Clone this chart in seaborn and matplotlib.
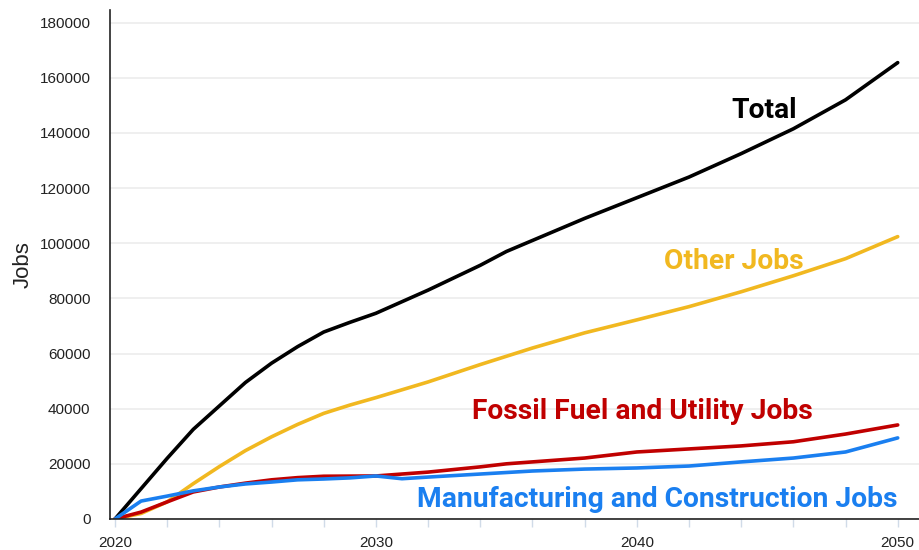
import matplotlib
matplotlib.use('Agg')
import matplotlib.pyplot as plt
from matplotlib.ticker import MultipleLocator
import numpy as np
import pandas as pd
import seaborn as sns

# ______________________________ data ______________________________
years_total = [2020, 2021, 2022, 2023, 2024, 2025, 2026, 2027, 2028, 2029, 2030, 2032, 2034, 2035,
               2036, 2038, 2040, 2042, 2044, 2046, 2048, 2050]
total = [0, 11000, 22000, 32500, 41000, 49500, 56500, 62500, 67800, 71300, 74600, 83000, 92000, 97000,
         101000, 109000, 116500, 124000, 132500, 141500, 152000, 165500]

years_other = [2020, 2021, 2022, 2023, 2024, 2025, 2026, 2027, 2028, 2029, 2030, 2032, 2034, 2036,
               2038, 2040, 2042, 2044, 2046, 2048, 2050]
other = [0, 2000, 6200, 12800, 19000, 24800, 29800, 34300, 38300, 41300, 44000, 49700, 56000, 62000,
         67500, 72200, 77000, 82400, 88200, 94400, 102400]

years_fossil = [2020, 2021, 2022, 2023, 2024, 2025, 2026, 2027, 2028, 2030, 2031, 2032, 2034,
                2035, 2036, 2038, 2040, 2042, 2044, 2046, 2048, 2050]
fossil = [0, 2500, 6200, 9800, 11600, 13000, 14200, 15000, 15500, 15600, 16300, 17000, 18900,
          20000, 20700, 22100, 24300, 25400, 26500, 28000, 30800, 34100]

years_manuf = [2020, 2021, 2022, 2023, 2024, 2025, 2026, 2027, 2028, 2029, 2030, 2031, 2032,
               2034, 2036, 2038, 2040, 2042, 2044, 2046, 2048, 2050]
manuf = [0, 6500, 8300, 10200, 11600, 12700, 13400, 14200, 14500, 14900, 15600, 14600, 15200,
         16300, 17400, 18100, 18500, 19200, 20700, 22100, 24300, 29400]

series_names = ['Total', 'Other Jobs', 'Fossil Fuel and Utility Jobs',
                'Manufacturing and Construction Jobs']
series_colors = ['#000000', '#f1b820', '#c00000', '#1a7ff0']

frames = []
for name, yrs, vals in zip(series_names,
                           [years_total, years_other, years_fossil, years_manuf],
                           [total, other, fossil, manuf]):
    frames.append(pd.DataFrame({'Year': yrs, 'Jobs': vals, 'Series': name}))
jobs = pd.concat(frames, ignore_index=True)

# ______________________________ plot ______________________________
sns.set_theme(style='white')
plt.rcParams['font.family'] = ['Liberation Sans', 'DejaVu Sans']

fig = plt.figure(figsize=(9.2, 5.5), dpi=100)
ax = fig.add_axes([0.1196, 0.0564, 0.88, 0.926])

sns.lineplot(data=jobs, x='Year', y='Jobs', hue='Series', hue_order=series_names,
             palette=series_colors, linewidth=2.6, legend=False, ax=ax)

ax.set_xlim(2019.81, 2050.84)
ax.set_ylim(0, 184700)
ax.yaxis.set_major_locator(MultipleLocator(20000))
ax.xaxis.set_major_locator(MultipleLocator(10))
ax.xaxis.set_minor_locator(MultipleLocator(2))
ax.grid(axis='y', color='#ececec', linewidth=1.2)
ax.set_axisbelow(True)

for side in ['top', 'right']:
    ax.spines[side].set_visible(False)
for side in ['left', 'bottom']:
    ax.spines[side].set_color('#222222')
    ax.spines[side].set_linewidth(1.2)

ax.tick_params(axis='y', length=0, labelsize=11, pad=14, labelcolor='#222222')
ax.tick_params(axis='x', which='both', direction='out', length=6, width=1,
               color='#d0dbe8', labelsize=11, pad=6, labelcolor='#222222', bottom=True)
ax.set_xlabel('')
ax.set_ylabel('Jobs', fontsize=16, labelpad=4, color='#222222')

lbl = dict(fontsize=20.3, fontweight='bold', family=['Roboto', 'DejaVu Sans'], ha='center', va='center')
ax.text(2044.9, 148300, 'Total', color=series_colors[0], **lbl)
ax.text(2043.7, 93200, 'Other Jobs', color=series_colors[1], **lbl)
ax.text(2040.2, 39000, 'Fossil Fuel and Utility Jobs', color=series_colors[2], **lbl)
ax.text(2040.8, 6900, 'Manufacturing and Construction Jobs', color=series_colors[3], **lbl)

fig.savefig('out.png', dpi=100)
